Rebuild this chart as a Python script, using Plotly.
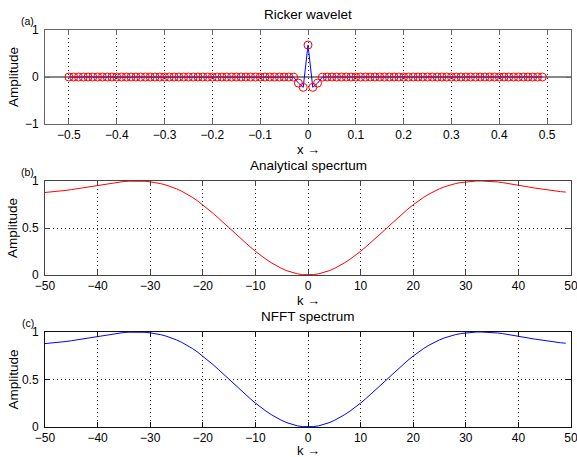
import numpy as np
import plotly.graph_objects as go

# ---- data ----
# sample positions of the wavelet (x from -0.5 to 0.49, step 0.01)
x_pos = np.round(np.arange(-50, 50) * 0.01, 2)
# wavelet amplitude at each sample (non-zero only around the origin)
ricker_amp = [0.0] * 47 + [-0.003, -0.13, -0.22, 0.68, -0.22, -0.13, -0.003] + [0.0] * 46

# wavenumbers for the spectra
k_vals = list(range(-50, 50))
# spectrum magnitude for k = 0 .. 50 (the spectrum is symmetric in k)
analytic_half = [0.001, 0.004, 0.012, 0.026, 0.045, 0.069, 0.098, 0.131, 0.168, 0.208,
                 0.252, 0.299, 0.347, 0.397, 0.448, 0.500, 0.552, 0.604, 0.654, 0.702,
                 0.747, 0.789, 0.827, 0.861, 0.891, 0.917, 0.939, 0.957, 0.972, 0.983,
                 0.991, 0.997, 1.000, 1.000, 0.998, 0.995, 0.990, 0.983, 0.975, 0.966,
                 0.956, 0.946, 0.936, 0.926, 0.917, 0.908, 0.900, 0.893, 0.887, 0.882,
                 0.878]
nfft_half = [0.001, 0.004, 0.012, 0.026, 0.045, 0.069, 0.098, 0.131, 0.168, 0.208,
             0.252, 0.299, 0.347, 0.397, 0.448, 0.500, 0.552, 0.604, 0.654, 0.702,
             0.747, 0.789, 0.827, 0.861, 0.891, 0.917, 0.939, 0.957, 0.972, 0.983,
             0.991, 0.997, 1.000, 1.000, 0.998, 0.995, 0.990, 0.983, 0.975, 0.966,
             0.956, 0.946, 0.936, 0.926, 0.917, 0.908, 0.900, 0.893, 0.887, 0.882,
             0.878]
analytic_amp = analytic_half[50:0:-1] + analytic_half[0:50]
nfft_amp = nfft_half[50:0:-1] + nfft_half[0:50]

titles = ["Ricker wavelet", "Analytical specrtum", "NFFT spectrum"]
panel_tags = ["(a)", "(b)", "(c)"]
x_titles = ["x \u2192", "k \u2192", "k \u2192"]

# ---- layout geometry ----
W, H = 577, 457
ML, MR, MT, MB = 45, 6, 30, 30
PH = H - MT - MB  # plot area height in px
PW = W - ML - MR

def frac_y(py):
    return (H - MB - py) / PH

tops = [30, 181, 332]
bottoms = [124, 275, 427]
xtitle_gap = [25, 25, 23]
domains = [[frac_y(b), frac_y(t)] for t, b in zip(tops, bottoms)]

FONT = "Liberation Sans, Arial, Helvetica, sans-serif"
GRID_DASH = "1px,3px"

fig = go.Figure()

# (a) wavelet: blue line through samples, red open circles at samples
fig.add_trace(go.Scatter(x=x_pos, y=ricker_amp, mode="lines",
                         line=dict(color="#0000ff", width=1),
                         xaxis="x", yaxis="y", showlegend=False))
fig.add_trace(go.Scatter(x=x_pos, y=ricker_amp, mode="markers",
                         marker=dict(symbol="circle-open", size=8,
                                     color="#ff0000", line=dict(width=1, color="#ff0000")),
                         xaxis="x", yaxis="y", showlegend=False))
# (b) analytical spectrum
fig.add_trace(go.Scatter(x=k_vals, y=analytic_amp, mode="lines",
                         line=dict(color="#ff0000", width=1),
                         xaxis="x2", yaxis="y2", showlegend=False))
# (c) NFFT spectrum
fig.add_trace(go.Scatter(x=k_vals, y=nfft_amp, mode="lines",
                         line=dict(color="#0000ff", width=1),
                         xaxis="x3", yaxis="y3", showlegend=False))

frame_cols = ["#666666", "#444444", "#111111"]

def xaxis_cfg(i, rng, dtick, tick0):
    return dict(domain=[0, 1], range=rng, dtick=dtick, tick0=tick0, tickmode="linear",
                anchor="y" if i == 0 else f"y{i+1}",
                showline=True, mirror="ticks", linecolor=frame_cols[i], linewidth=1,
                ticks="inside", ticklen=5, tickcolor=frame_cols[i], tickwidth=1,
                showgrid=True, gridcolor="#222222", griddash=GRID_DASH, gridwidth=1,
                zeroline=False, tickfont=dict(family=FONT, size=12, color="#000000"),
                ticklabelstandoff=0, ticklabeloverflow="allow", automargin=False)

def yaxis_cfg(i, rng, dtick, grid=True, zero=False):
    return dict(domain=domains[i], range=rng, dtick=dtick, tick0=0, tickmode="linear",
                anchor="x" if i == 0 else f"x{i+1}",
                showline=True, mirror="ticks", linecolor=frame_cols[i], linewidth=1,
                ticks="inside", ticklen=5, tickcolor=frame_cols[i], tickwidth=1,
                showgrid=grid, gridcolor="#222222", griddash=GRID_DASH, gridwidth=1,
                zeroline=zero, zerolinecolor="#888888", zerolinewidth=1.5,
                tickfont=dict(family=FONT, size=12, color="#000000"),
                ticklabelstandoff=3, ticklabeloverflow="allow", automargin=False)

annotations = []
for i in range(3):
    top_px, bot_px = tops[i], bottoms[i]
    # title
    annotations.append(dict(text=titles[i], xref="paper", yref="paper",
                            x=0.5, y=frac_y(top_px - 16), xanchor="center", yanchor="middle",
                            showarrow=False, font=dict(family=FONT, size=13.5, color="#000000")))
    # panel tag
    annotations.append(dict(text=panel_tags[i], xref="paper", yref="paper",
                            x=(36 - ML) / PW, y=frac_y(top_px - 9), xanchor="right", yanchor="middle",
                            showarrow=False, font=dict(family=FONT, size=10.5, color="#000000")))
    # x-axis title
    annotations.append(dict(text=x_titles[i], xref="paper", yref="paper",
                            x=0.5, y=frac_y(bot_px + xtitle_gap[i]), xanchor="center", yanchor="middle",
                            showarrow=False, font=dict(family=FONT, size=13, color="#000000")))
    # y-axis title
    annotations.append(dict(text="Amplitude", xref="paper", yref="paper",
                            x=(13 - ML) / PW, y=frac_y((top_px + bot_px) / 2),
                            xanchor="center", yanchor="middle", textangle=-90,
                            showarrow=False, font=dict(family=FONT, size=13.5, color="#000000")))

fig.update_layout(
    width=W, height=H,
    margin=dict(l=ML, r=MR, t=MT, b=MB, autoexpand=False),
    paper_bgcolor="#ffffff", plot_bgcolor="#ffffff",
    xaxis=xaxis_cfg(0, [-0.55, 0.55], 0.1, 0),
    yaxis=yaxis_cfg(0, [-1, 1], 1, grid=False, zero=True),
    xaxis2=xaxis_cfg(1, [-50, 50], 10, 0),
    yaxis2=yaxis_cfg(1, [0, 1], 0.5),
    xaxis3=xaxis_cfg(2, [-50, 50], 10, 0),
    yaxis3=yaxis_cfg(2, [0, 1], 0.5),
    annotations=annotations,
    font=dict(family=FONT, color="#000000"),
)

fig.write_html("out.html")
